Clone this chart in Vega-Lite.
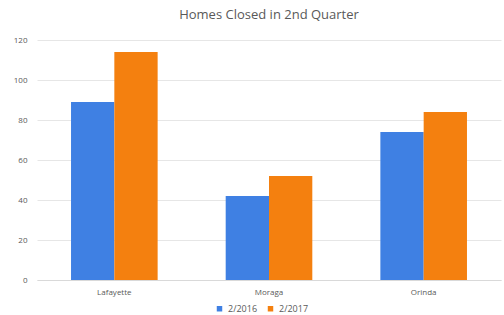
{
  "$schema": "https://vega.github.io/schema/vega-lite/v6.json",
  "autosize": "none",
  "width": 464,
  "height": 240,
  "padding": {"left": 37, "top": 40, "right": 3, "bottom": 35},
  "background": "white",
  "title": {"text": "Homes Closed in 2nd Quarter", "fontSize": 13, "font": "Open Sans", "fontWeight": "normal", "color": "#595959", "offset": 14},
  "data": {"values": [
    {"city": "Lafayette", "period": "2/2016", "homes": 89},
    {"city": "Lafayette", "period": "2/2017", "homes": 114},
    {"city": "Moraga", "period": "2/2016", "homes": 42},
    {"city": "Moraga", "period": "2/2017", "homes": 52},
    {"city": "Orinda", "period": "2/2016", "homes": 74},
    {"city": "Orinda", "period": "2/2017", "homes": 84}
  ]},
  "mark": {"type": "bar"},
  "encoding": {
    "x": {"field": "city", "type": "nominal", "sort": null,
      "scale": {"paddingInner": 0.44, "paddingOuter": 0.22},
      "axis": {"title": null, "labelAngle": 0, "labelFont": "Open Sans", "labelFontSize": 8, "labelColor": "#595959", "domainColor": "#d9d9d9", "ticks": false, "labelPadding": 8}},
    "xOffset": {"field": "period", "type": "nominal"},
    "y": {"field": "homes", "type": "quantitative",
      "scale": {"domain": [0, 120]},
      "axis": {"title": null, "values": [0, 20, 40, 60, 80, 100, 120], "labelFont": "Open Sans", "labelFontSize": 8, "labelColor": "#595959", "domain": false, "ticks": false, "gridColor": "#e6e6e6", "labelPadding": 10}},
    "color": {"field": "period", "type": "nominal",
      "scale": {"domain": ["2/2016", "2/2017"], "range": ["#3f80e3", "#f4800f"]},
      "legend": {"title": null, "orient": "none", "legendX": 178, "legendY": 264, "direction": "horizontal", "symbolType": "square", "symbolSize": 30, "labelFont": "Open Sans", "labelFontSize": 9, "labelColor": "#595959", "columnPadding": 8, "labelOffset": 4}}
  },
  "config": {"view": {"stroke": null}}
}
